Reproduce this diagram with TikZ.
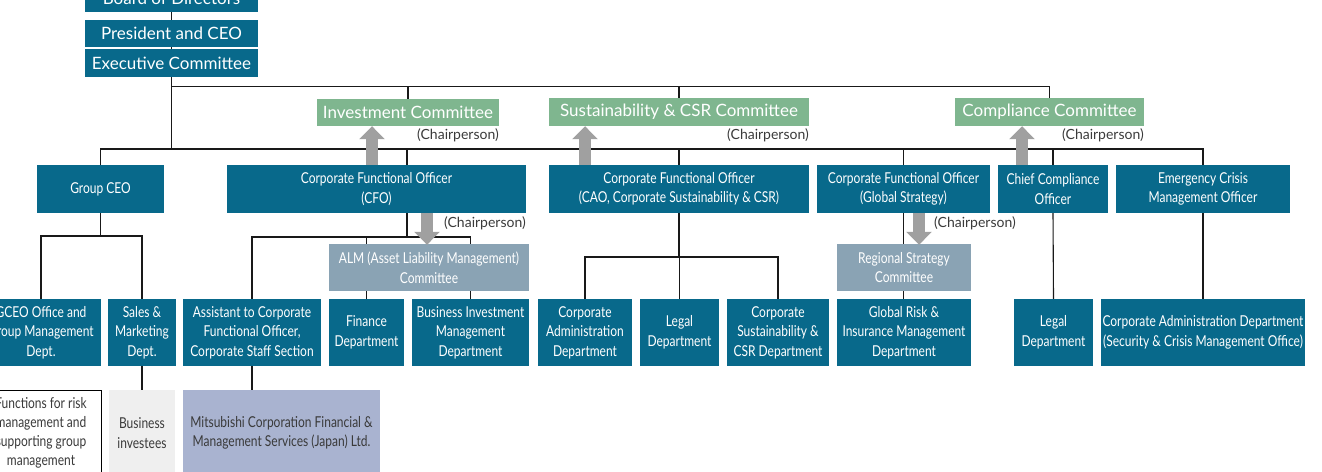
\documentclass[tikz,border=0pt]{standalone}
\usepackage{fontspec}
\setmainfont{Lato}
\newfontfamily\condf[FakeStretch=0.8]{Lato}
\usetikzlibrary{arrows.meta,backgrounds}
\definecolor{mcblue}{HTML}{08698B}
\definecolor{mcgreen}{HTML}{7FB68F}
\definecolor{mcslate}{HTML}{8AA3B4}
\definecolor{mclav}{HTML}{A9B3D0}
\definecolor{mcgray}{HTML}{EFEFEF}
\definecolor{mcarrow}{HTML}{A0A0A0}
\definecolor{mctext}{HTML}{3A3A3A}
\tikzset{
  sz/.style 2 args={minimum width=#1pt, minimum height=#2pt},
  box/.style={fill=mcblue, text=white, inner sep=0pt, align=center,
    font=\condf\fontsize{15}{19.5}\selectfont},
  head/.style={fill=mcblue, text=white, inner sep=0pt,
    font=\fontsize{17}{20}\selectfont},
  comm/.style={fill=mcgreen, text=white, inner sep=0pt,
    font=\fontsize{17}{20}\selectfont},
  slate/.style={box, fill=mcslate},
  lightbox/.style={box, fill=mcgray, text=mctext},
  lavbox/.style={box, fill=mclav, text=mctext},
  whitebox/.style={box, fill=white, draw=black, line width=1pt, text=mctext},
  chair/.style={text=mctext, inner sep=0pt, font=\fontsize{14}{16}\selectfont},
  conn/.style={draw=black!90, line width=1.1pt},
  bigarrow/.style={draw=mcarrow, line width=12.5pt,
    -{Triangle[width=25pt,length=13pt]}}
}
\begin{document}
\begin{tikzpicture}[x=1pt,y=-1pt]
\useasboundingbox (0,0) rectangle (1322,471);
\clip (0,0) rectangle (1322,471);
% top
\node[head, sz={173}{27}] (board) at (171.5,-1.5) {Board of Directors};
\node[head, sz={173}{27}] (pres) at (171.5,33.5) {President and CEO};
\node[head, sz={173}{28}] (exec) at (171.5,63) {Executive Committee};
% committees
\node[comm, sz={182}{27}] (inv) at (408,112.5) {Investment Committee};
\node[comm, sz={260}{28}] (sus) at (679,112) {Sustainability \& CSR Committee};
\node[comm, sz={189}{28}] (comp) at (1049.5,112) {Compliance Committee};
\node[chair, anchor=east] (ch1) at (499,135) {(Chairperson)};
\node[chair, anchor=east] (ch2) at (809,135) {(Chairperson)};
\node[chair, anchor=east] (ch3) at (1144,135) {(Chairperson)};
% officers
\node[box, sz={127}{48}] (gceo) at (100.5,189) {Group CEO};
\node[box, sz={299}{48}] (cfo) at (376.5,189) {Corporate Functional Officer\\(CFO)};
\node[box, sz={260}{48}] (cao) at (679,189) {Corporate Functional Officer\\(CAO, Corporate Sustainability \& CSR)};
\node[box, sz={173}{48}] (gs) at (903.5,189) {Corporate Functional Officer\\(Global Strategy)};
\node[box, sz={110}{48}] (cco) at (1053,189) {Chief Compliance\\Officer};
\node[box, sz={174}{48}] (ecm) at (1203,189) {Emergency Crisis\\Management Officer};
% sub committees
\node[slate, sz={200}{47}] (alm) at (429,267.5) {ALM (Asset Liability Management)\\Committee};
\node[slate, sz={134}{47}] (rsc) at (904,267.5) {Regional Strategy\\Committee};
\node[chair, anchor=east] (ch4) at (526,223) {(Chairperson)};
\node[chair, anchor=west] (ch5) at (934,223) {(Chairperson)};
% departments
\node[box, sz={120}{67}] (gceooff) at (41,332.5) {GCEO Office and\\Group Management\\Dept.};
\node[box, sz={68}{67}] (sales) at (142,332.5) {Sales \&\\Marketing\\Dept.};
\node[box, sz={138}{67}] (asst) at (252,332.5) {Assistant to Corporate\\Functional Officer,\\Corporate Staff Section};
\node[box, sz={75}{67}] (fin) at (366.5,332.5) {Finance\\Department};
\node[box, sz={117}{67}] (bim) at (470.5,332.5) {Business Investment\\Management\\Department};
\node[box, sz={94}{67}] (cad) at (585,332.5) {Corporate\\Administration\\Department};
\node[box, sz={79}{67}] (legal) at (679.5,332.5) {Legal\\Department};
\node[box, sz={102}{67}] (csr) at (778,332.5) {Corporate\\Sustainability \&\\CSR Department};
\node[box, sz={134}{67}] (grim) at (904,332.5) {Global Risk \&\\Insurance Management\\Department};
\node[box, sz={79}{67}] (legal2) at (1053.5,332.5) {Legal\\Department};
\node[box, sz={204}{67}] (cadsec) at (1203,332.5) {Corporate Administration Department\\(Security \& Crisis Management Office)};
% bottom row
\node[whitebox, sz={160}{86}] (func) at (21,433) {};
\node[text=mctext, align=center, inner sep=0pt, font=\condf\fontsize{15}{19}\selectfont] (functext) at (41,433) {Functions for risk\\management and\\supporting group\\management};
\node[lightbox, sz={66}{86}] (businv) at (142,433) {Business\\investees};
\node[lavbox, sz={197}{86}] (mitsu) at (281.5,433) {Mitsubishi Corporation Financial \&\\Management Services (Japan) Ltd.};
% big arrows
\draw[bigarrow] (372,0 |- cfo.north) -- (372,0 |- inv.south);
\draw[bigarrow] (585,0 |- cao.north) -- (585,0 |- sus.south);
\draw[bigarrow] (1022,0 |- cco.north) -- (1022,0 |- comp.south);
\draw[bigarrow] (427,0 |- cfo.south) -- ([yshift=-1pt]427,0 |- alm.north);
\draw[bigarrow] (919,0 |- gs.south) -- ([yshift=-1pt]919,0 |- rsc.north);
% connectors
\begin{pgfonlayer}{background}
\draw[conn] (board.south) -- (pres.north);
\draw[conn] (pres.south) -- (exec.north);
\draw[conn] (exec.south) -- (exec.south |- 0,149);
\draw[conn] (exec.south |- 0,86.5) -- (comp.north |- 0,86.5) -- (comp.north);
\draw[conn] (inv.north |- 0,86.5) -- (inv.north);
\draw[conn] (sus.north |- 0,86.5) -- (sus.north);
\draw[conn] (gceo.north) -- (gceo.north |- 0,149) -- (ecm.north |- 0,149) -- (ecm.north);
\draw[conn] (407,149) -- (407,0 |- cfo.north);
\draw[conn] (cao.north |- 0,149) -- (cao.north);
\draw[conn] (gs.north |- 0,149) -- (gs.north);
\draw[conn] (cco.north |- 0,149) -- (cco.north);
% group CEO
\draw[conn] (gceo.south) -- (gceo.south |- 0,236);
\draw[conn] (gceooff.north) -- (gceooff.north |- 0,236) -- (sales.north |- 0,236) -- (sales.north);
\draw[conn] (sales.south) -- (businv.north);
% CFO
\draw[conn] (407,0 |- cfo.south) -- (407,237);
\draw[conn] (asst.north) -- (asst.north |- 0,237) -- (bim.north |- 0,237) -- (bim.north);
\draw[conn] (fin.north |- 0,237) -- (fin.north);
\draw[conn] (asst.south) -- (asst.south |- mitsu.north);
% CAO
\draw[conn] (cao.south) -- (cao.south |- 0,257);
\draw[conn] (cad.north) -- (cad.north |- 0,257) -- (csr.north |- 0,257) -- (csr.north);
\draw[conn] (legal.north |- 0,257) -- (legal.north);
% GS, CCO, ECM
\draw[conn] (gs.south) -- (gs.south |- grim.north);
\draw[conn] (cco.south) -- (legal2.north);
\draw[conn] (ecm.south) -- (cadsec.north);
\end{pgfonlayer}
\end{tikzpicture}
\end{document}
